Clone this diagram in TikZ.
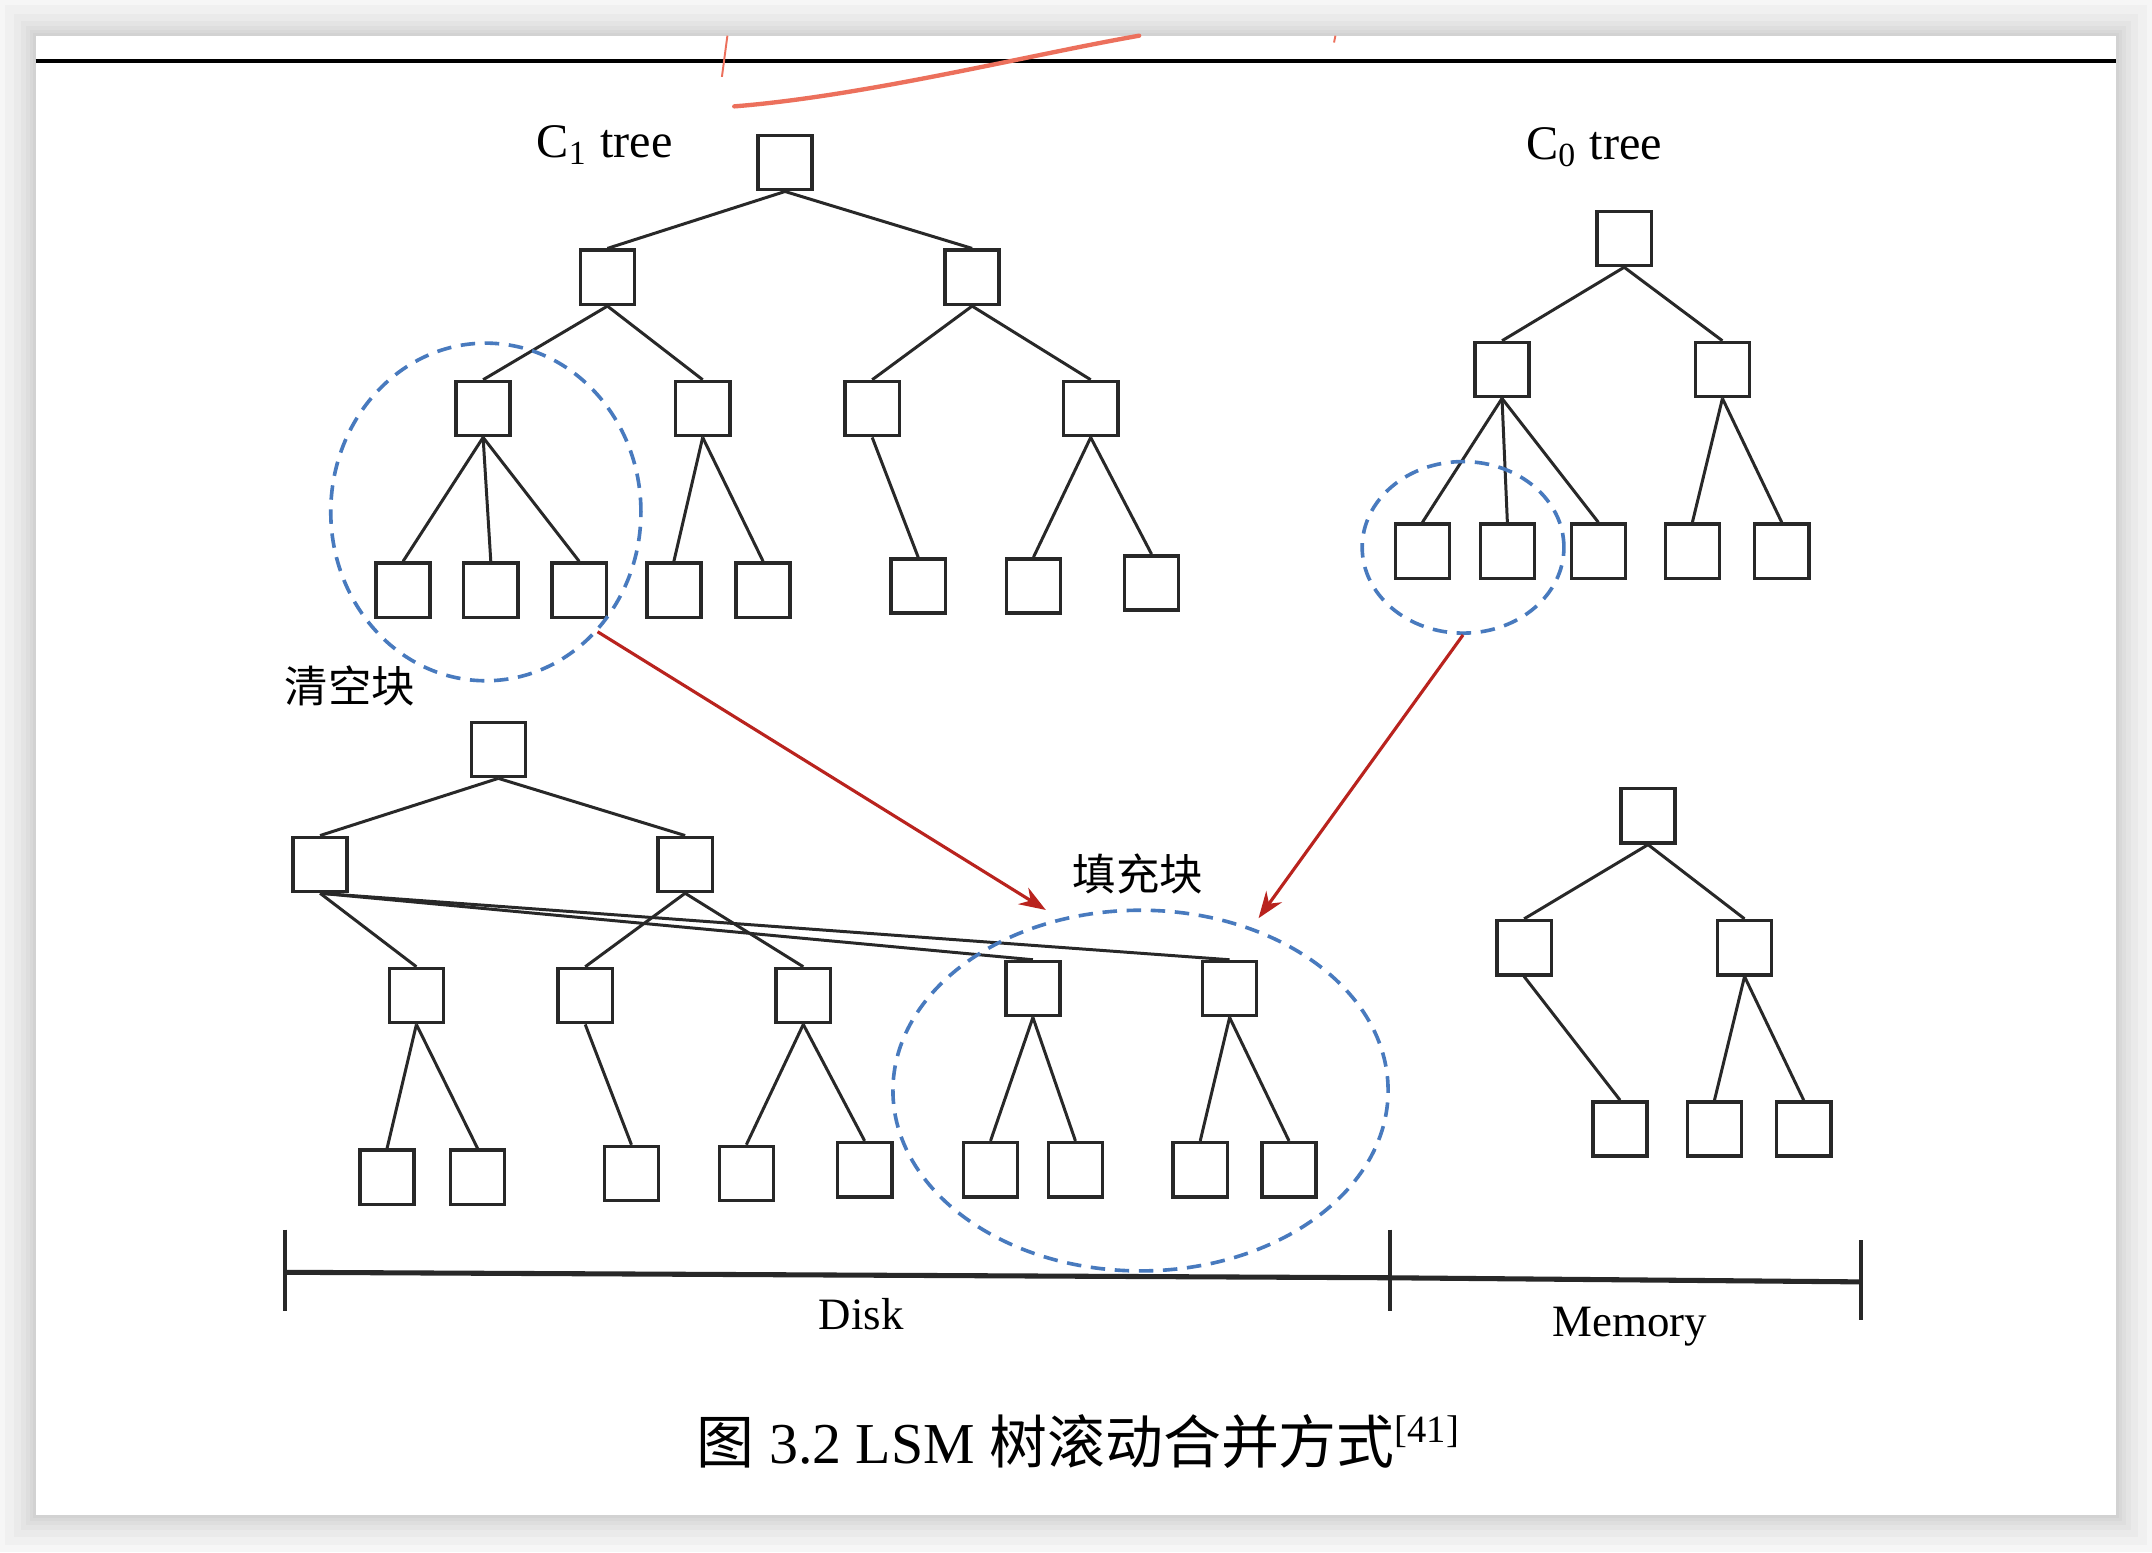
\documentclass[tikz,border=0pt]{standalone}
\usepackage{fontspec}
\setmainfont{Liberation Serif}
\newfontfamily\cjk{Noto Sans CJK SC}
\usetikzlibrary{positioning,shapes.geometric,arrows.meta}
\definecolor{linegray}{RGB}{40,40,40}
\definecolor{ringblue}{RGB}{72,122,190}
\definecolor{arrowred}{RGB}{185,35,30}
\definecolor{handred}{RGB}{236,112,92}
\definecolor{pagegray}{RGB}{246,246,246}

\begin{document}
\begin{tikzpicture}[
    blk/.style={draw=linegray, line width=0.72pt, minimum size=0.395cm, inner sep=0pt},
    link/.style={draw=linegray, line width=0.62pt},
    ringdash/.style={draw=ringblue, ellipse, line width=0.75pt, dash pattern=on 3pt off 2pt, inner sep=0pt},
    mergearrow/.style={draw=arrowred, line width=0.65pt, -{Stealth[length=5.5pt,width=4pt]}},
    treename/.style={anchor=base, font=\fontsize{10}{12}\selectfont},
    cjkname/.style={anchor=base, font=\cjk\fontsize{9}{11}\selectfont},
    placename/.style={anchor=base, font=\fontsize{9.3}{11}\selectfont},
    scaleline/.style={draw=linegray, line width=1.05pt},
    tickline/.style={draw=linegray, line width=0.8pt}]
    \useasboundingbox (0,0) rectangle (15.68,-11.31);
    \fill [pagegray] (0,0) rectangle (15.68,-11.31);
    \foreach \d in {0.22,0.16,0.11,0.07,0.04,0.02}
        \fill [black, opacity=0.025] ({0.26-\d},{-0.26+\d}) rectangle ({15.42+\d},{-11.04-\d});
    \fill [white] (0.26,-0.26) rectangle (15.42,-11.04);
    \draw [black, line width=0.8pt] (0.26,-0.445) -- (15.42,-0.445);
    \draw [handred, line width=0.9pt, line cap=round] (5.35,-0.775) .. controls (6.3,-0.70) and (7.5,-0.40) .. (8.30,-0.26);
    \draw [handred, line width=0.4pt] (5.30,-0.26) -- (5.26,-0.56);
    \draw [handred, line width=0.4pt] (9.73,-0.26) -- (9.72,-0.31);

    \node (c1root) [blk] at (5.72,-1.185) {};
    \node (c1l) [blk] at (4.426,-2.02) {};
    \node (c1r) [blk] at (7.083,-2.02) {};
    \node (c1ll) [blk] at (3.52,-2.977) {};
    \node (c1lr) [blk] at (5.12,-2.977) {};
    \node (c1rl) [blk] at (6.355,-2.977) {};
    \node (c1rr) [blk] at (7.947,-2.977) {};
    \node (c1leafa) [blk] at (2.937,-4.30) {};
    \node (c1leafb) [blk] at (3.576,-4.30) {};
    \node (c1leafc) [blk] at (4.22,-4.30) {};
    \node (c1leafd) [blk] at (4.91,-4.30) {};
    \node (c1leafe) [blk] at (5.56,-4.30) {};
    \node (c1leaff) [blk] at (6.69,-4.27) {};
    \node (c1leafg) [blk] at (7.53,-4.27) {};
    \node (c1leafh) [blk] at (8.39,-4.247) {};
    \node (c1name) [treename] at (4.405,-1.147) {C\textsubscript{1} tree};

    \draw [link] (c1root.south) -- (c1l.north);
    \draw [link] (c1root.south) -- (c1r.north);
    \draw [link] (c1l.south) -- (c1ll.north);
    \draw [link] (c1l.south) -- (c1lr.north);
    \draw [link] (c1r.south) -- (c1rl.north);
    \draw [link] (c1r.south) -- (c1rr.north);
    \draw [link] (c1ll.south) -- (c1leafa.north);
    \draw [link] (c1ll.south) -- (c1leafb.north);
    \draw [link] (c1ll.south) -- (c1leafc.north);
    \draw [link] (c1lr.south) -- (c1leafd.north);
    \draw [link] (c1lr.south) -- (c1leafe.north);
    \draw [link] (c1rl.south) -- (c1leaff.north);
    \draw [link] (c1rr.south) -- (c1leafg.north);
    \draw [link] (c1rr.south) -- (c1leafh.north);

    \node (c0root) [blk] at (11.834,-1.737) {};
    \node (c0l) [blk] at (10.944,-2.693) {};
    \node (c0r) [blk] at (12.55,-2.693) {};
    \node (c0leafa) [blk] at (10.364,-4.016) {};
    \node (c0leafb) [blk] at (10.983,-4.016) {};
    \node (c0leafc) [blk] at (11.646,-4.016) {};
    \node (c0leafd) [blk] at (12.331,-4.016) {};
    \node (c0leafe) [blk] at (12.982,-4.016) {};
    \node (c0name) [treename] at (11.615,-1.16) {C\textsubscript{0} tree};

    \draw [link] (c0root.south) -- (c0l.north);
    \draw [link] (c0root.south) -- (c0r.north);
    \draw [link] (c0l.south) -- (c0leafa.north);
    \draw [link] (c0l.south) -- (c0leafb.north);
    \draw [link] (c0l.south) -- (c0leafc.north);
    \draw [link] (c0r.south) -- (c0leafd.north);
    \draw [link] (c0r.south) -- (c0leafe.north);

    \node (n1root) [blk] at (3.631,-5.461) {};
    \node (n1l) [blk] at (2.332,-6.298) {};
    \node (n1r) [blk] at (4.992,-6.298) {};
    \node (n1a) [blk] at (3.034,-7.254) {};
    \node (n1b) [blk] at (4.264,-7.254) {};
    \node (n1c) [blk] at (5.853,-7.254) {};
    \node (n1d) [blk] at (7.526,-7.203) {};
    \node (n1e) [blk] at (8.959,-7.203) {};
    \node (n1leafa) [blk] at (2.82,-8.578) {};
    \node (n1leafb) [blk] at (3.48,-8.578) {};
    \node (n1leafc) [blk] at (4.601,-8.551) {};
    \node (n1leafd) [blk] at (5.438,-8.551) {};
    \node (n1leafe) [blk] at (6.30,-8.523) {};
    \node (n1leaff) [blk] at (7.217,-8.523) {};
    \node (n1leafg) [blk] at (7.836,-8.523) {};
    \node (n1leafh) [blk] at (8.745,-8.523) {};
    \node (n1leafi) [blk] at (9.392,-8.523) {};

    \draw [link] (n1root.south) -- (n1l.north);
    \draw [link] (n1root.south) -- (n1r.north);
    \draw [link] (n1l.south) -- (n1a.north);
    \draw [link] (n1l.south) -- (n1d.north);
    \draw [link] (n1l.south) -- (n1e.north);
    \draw [link] (n1r.south) -- (n1b.north);
    \draw [link] (n1r.south) -- (n1c.north);
    \draw [link] (n1a.south) -- (n1leafa.north);
    \draw [link] (n1a.south) -- (n1leafb.north);
    \draw [link] (n1b.south) -- (n1leafc.north);
    \draw [link] (n1c.south) -- (n1leafd.north);
    \draw [link] (n1c.south) -- (n1leafe.north);
    \draw [link] (n1d.south) -- (n1leaff.north);
    \draw [link] (n1d.south) -- (n1leafg.north);
    \draw [link] (n1e.south) -- (n1leafh.north);
    \draw [link] (n1e.south) -- (n1leafi.north);

    \node (m0root) [blk] at (12.008,-5.944) {};
    \node (m0l) [blk] at (11.105,-6.905) {};
    \node (m0r) [blk] at (12.711,-6.905) {};
    \node (m0leafa) [blk] at (11.804,-8.226) {};
    \node (m0leafb) [blk] at (12.492,-8.226) {};
    \node (m0leafc) [blk] at (13.142,-8.226) {};

    \draw [link] (m0root.south) -- (m0l.north);
    \draw [link] (m0root.south) -- (m0r.north);
    \draw [link] (m0l.south) -- (m0leafa.north);
    \draw [link] (m0r.south) -- (m0leafb.north);
    \draw [link] (m0r.south) -- (m0leafc.north);

    \node (c1ring) [ringdash, minimum width=2.26cm, minimum height=2.46cm] at (3.54,-3.73) {};
    \node (c0ring) [ringdash, minimum width=1.47cm, minimum height=1.25cm] at (10.66,-3.988) {};
    \node (n1ring) [ringdash, minimum width=3.608cm, minimum height=2.628cm] at (8.31,-7.946) {};
    \node (emptied) [cjkname] at (2.55,-5.12) {清空块};
    \node (filled) [cjkname] at (8.29,-6.485) {填充块};

    \coordinate (fillin1) at (7.62,-6.63);
    \coordinate (fillin2) at (9.17,-6.69);
    \draw [mergearrow] (c1ring.313) -- (fillin1);
    \draw [mergearrow] (c0ring.south) -- (fillin2);

    \coordinate (diskstart) at (2.076,-9.27);
    \coordinate (split) at (10.13,-9.31);
    \coordinate (memend) at (13.56,-9.34);
    \draw [scaleline] (diskstart) -- (split) -- (memend);
    \draw [tickline] ([yshift=0.31cm]diskstart) -- ([yshift=-0.28cm]diskstart);
    \draw [tickline] ([yshift=0.35cm]split) -- ([yshift=-0.24cm]split);
    \draw [tickline] ([yshift=0.305cm]memend) -- ([yshift=-0.28cm]memend);
    \node (disk) [placename] at (6.276,-9.69) {Disk};
    \node (memory) [placename] at (11.875,-9.74) {Memory};

    \node (caption) [anchor=base west, inner sep=0pt, font=\fontsize{12}{14}\selectfont] at (5.07,-10.66) {{\cjk 图} 3.2 LSM {\cjk 树滚动合并方式}\textsuperscript{[41]}};
\end{tikzpicture}
\end{document}
